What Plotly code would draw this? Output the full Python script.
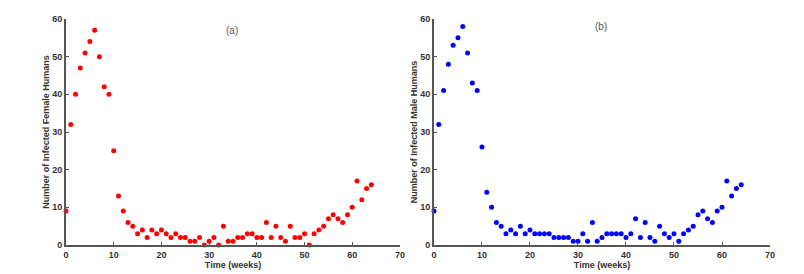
import plotly.graph_objects as go

weeks = list(range(0, 65))
female = [9, 32, 40, 47, 51, 54, 57, 50, 42, 40,
          25, 13, 9, 6, 5, 3, 4, 2, 4, 3,
          4, 3, 2, 3, 2, 2, 1, 1, 2, 0,
          1, 2, 0, 5, 1, 1, 2, 2, 3, 3,
          2, 2, 6, 2, 5, 2, 1, 5, 2, 2,
          3, 0, 3, 4, 5, 7, 8, 7, 6, 8,
          10, 17, 12, 15, 16]
male = [9, 32, 41, 48, 53, 55, 58, 51, 43, 41,
        26, 14, 10, 6, 5, 3, 4, 3, 5, 3,
        4, 3, 3, 3, 3, 2, 2, 2, 2, 1,
        1, 3, 1, 6, 1, 2, 3, 3, 3, 3,
        2, 3, 7, 2, 6, 2, 1, 5, 3, 2,
        3, 1, 3, 4, 5, 8, 9, 7, 6, 9,
        10, 17, 13, 15, 16]
x_ticks = [0, 10, 20, 30, 40, 50, 60, 70]
y_ticks = [0, 10, 20, 30, 40, 50, 60]

fig = go.Figure()
fig.add_trace(go.Scatter(x=weeks, y=female, mode="markers",
                         marker=dict(color="#ff0000", size=5),
                         cliponaxis=False, xaxis="x", yaxis="y"))
fig.add_trace(go.Scatter(x=weeks, y=male, mode="markers",
                         marker=dict(color="#0000ff", size=5),
                         cliponaxis=False, xaxis="x2", yaxis="y2"))

font_family = "Liberation Sans, Arial"
axis_common = dict(showgrid=False, zeroline=False, showline=True,
                   linecolor="#555555", linewidth=2, automargin=False,
                   ticks="inside", ticklen=3, tickwidth=1, tickcolor="#555555",
                   tickfont=dict(family=font_family, size=9,
                                 color="#333333", weight="bold"),
                   title_font=dict(family=font_family, size=9,
                                   color="#333333", weight="bold"))

fig.update_layout(
    width=804, height=274,
    margin=dict(l=66, r=34, t=19, b=29),
    paper_bgcolor="white", plot_bgcolor="white",
    showlegend=False,
    xaxis=dict(domain=[0, 0.4744], range=[0, 70], tickvals=x_ticks,
               title=dict(text="Time (weeks)", standoff=1), anchor="y", **axis_common),
    yaxis=dict(range=[0, 60], tickvals=y_ticks,
               title=dict(text="Number of Infected Female Humans", standoff=1),
               anchor="x", **axis_common),
    xaxis2=dict(domain=[0.5227, 1], range=[0, 70], tickvals=x_ticks,
                title=dict(text="Time (weeks)", standoff=1), anchor="y2", **axis_common),
    yaxis2=dict(range=[0, 60], tickvals=y_ticks,
                title=dict(text="Number of Infected Male Humans", standoff=1),
                anchor="x2", **axis_common),
    annotations=[
        dict(text="(a)", x=232, y=31, xref="paper", yref="paper", showarrow=False),
        dict(text="(b)", x=601, y=26, xref="paper", yref="paper", showarrow=False),
    ],
)

# convert pixel positions of panel labels into paper coordinates
pw, ph = 804 - 66 - 34, 274 - 19 - 29
for ann in fig.layout.annotations:
    ann.x = (ann.x - 66) / pw
    ann.y = 1 - (ann.y - 19) / ph
    ann.xanchor = "center"
    ann.yanchor = "middle"
    ann.font = dict(family=font_family, size=10, color="#555555")

fig.write_html("out.html",
               config={"displayModeBar": False},
               post_script="document.body.style.margin='0';"
                           "document.body.style.overflow='hidden';")
